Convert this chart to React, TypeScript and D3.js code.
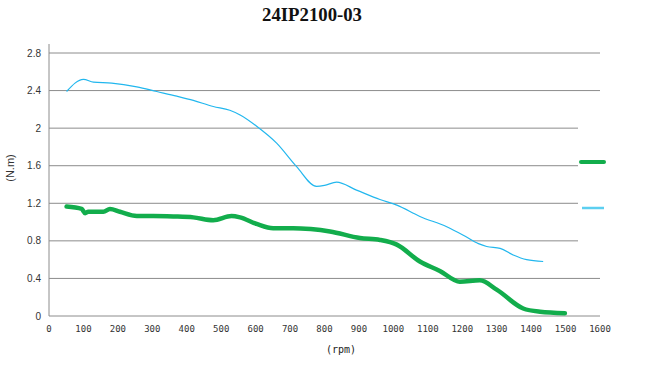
import React from 'react';
import * as d3 from 'd3';

const xTicks = [0, 100, 200, 300, 400, 500, 600, 700, 800, 900, 1000, 1100, 1200, 1300, 1400, 1500, 1600];
const yTicks = [0, 0.4, 0.8, 1.2, 1.6, 2, 2.4, 2.8];

// upper (thin, light blue) curve
const blueRpm = [51, 100, 129, 182, 255, 313, 371, 419, 477, 525, 555, 603, 661, 719, 777, 800, 835, 893, 961, 1010, 1077, 1155, 1203, 1247, 1271, 1310, 1348, 1387, 1435];
const blueNm = [2.39, 2.52, 2.49, 2.48, 2.44, 2.39, 2.34, 2.295, 2.23, 2.19, 2.14, 2.02, 1.84, 1.59, 1.38, 1.39, 1.425, 1.34, 1.24, 1.18, 1.06, 0.95, 0.86, 0.77, 0.74, 0.72, 0.65, 0.6, 0.58];

// lower (thick, green) curve
const greenRpm = [51, 95, 105, 114, 158, 177, 206, 255, 303, 361, 419, 477, 530, 555, 603, 651, 709, 760, 816, 903, 961, 1010, 1077, 1135, 1193, 1251, 1300, 1377, 1426, 1498];
const greenNm = [1.165, 1.14, 1.095, 1.11, 1.11, 1.14, 1.11, 1.065, 1.065, 1.06, 1.05, 1.02, 1.065, 1.05, 0.98, 0.935, 0.935, 0.925, 0.9, 0.83, 0.81, 0.76, 0.58, 0.48, 0.365, 0.38, 0.28, 0.08, 0.045, 0.03];

const W = 648;
const H = 366;
const left = 49;
const right = 600;
const bottom = 316;
const top = 53;

export default function App() {
  const x = d3.scaleLinear().domain([0, 1600]).range([left, right]);
  const y = d3.scaleLinear().domain([0, 2.8]).range([bottom, top]);

  const line = d3.line<[number, number]>()
    .curve(d3.curveMonotoneX)
    .x(d => x(d[0]))
    .y(d => y(d[1]));

  const blue = blueRpm.map((r, i) => [r, blueNm[i]] as [number, number]);
  const green = greenRpm.map((r, i) => [r, greenNm[i]] as [number, number]);

  return (
    <svg width={W} height={H} style={{ position: 'absolute', left: 0, top: 0, background: '#fff' }}>
      <text x={312} y={21} textAnchor="middle" fontFamily="Liberation Serif, serif" fontWeight="bold" fontSize={18} textLength={100} lengthAdjust="spacingAndGlyphs" fill="#111">24IP2100-03</text>

      {yTicks.map(t => (
        <g key={t}>
          <line x1={left} x2={right} y1={y(t)} y2={y(t)} stroke="#8c8c8c" strokeWidth={1} />
          <text x={41} y={y(t) + 3.5} textAnchor="end" fontFamily="Liberation Sans, Arial, sans-serif" fontSize={10} fill="#333">{d3.format('~g')(t)}</text>
        </g>
      ))}
      <line x1={left} x2={left} y1={44} y2={bottom} stroke="#8c8c8c" strokeWidth={1} />

      {xTicks.map(t => (
        <text key={t} x={x(t)} y={332} textAnchor="middle" fontFamily="DejaVu Sans Mono, monospace" fontSize={9} fill="#333">{t}</text>
      ))}

      <text x={341} y={353} textAnchor="middle" fontFamily="DejaVu Sans Mono, monospace" fontSize={10} fill="#222">(rpm)</text>
      <text transform="translate(14,168) rotate(-90)" textAnchor="middle" fontFamily="Liberation Sans, Arial, sans-serif" fontSize={11} fill="#333">(N.m)</text>

      <path d={line(blue) ?? ''} fill="none" stroke="#22b7ee" strokeWidth={1.2} />
      <path d={line(green) ?? ''} fill="none" stroke="#12ad4c" strokeWidth={4.5} strokeLinecap="round" strokeLinejoin="round" />

      {/* legend */}
      <rect x={578} y={110} width={40} height={145} fill="#fff" />
      <line x1={581} x2={604} y1={162} y2={162} stroke="#12ad4c" strokeWidth={4} strokeLinecap="round" />
      <line x1={582} x2={604} y1={208} y2={208} stroke="#5ccff0" strokeWidth={2.5} />
    </svg>
  );
}
